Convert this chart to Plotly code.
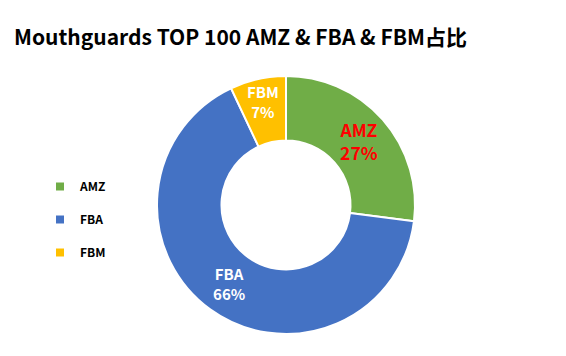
import plotly.graph_objects as go

categories = ["AMZ", "FBA", "FBM"]
values = [27, 66, 7]
colors = ["#70AD47", "#4472C4", "#FFC000"]
label_colors = ["#FF0000", "#FFFFFF", "#FFFFFF"]
label_sizes = [17.5, 15, 15]

# page body has an 8px default margin; work in window pixels and shift
OFF = 8
W, H = 566 - OFF, 356 - OFF
cx, cy, r = 286 - OFF, 205 - OFF, 129

fig = go.Figure()
fig.add_trace(go.Pie(
    labels=categories, values=values, sort=False, direction="clockwise", rotation=0,
    hole=0.5,
    marker=dict(colors=colors, line=dict(color="white", width=2)),
    texttemplate="<b>%{label}</b><br><b>%{percent:.0%}</b>",
    textposition="inside", insidetextorientation="horizontal",
    textfont=dict(color=label_colors, size=label_sizes, family="Noto Sans CJK SC"),
    showlegend=False,
    domain=dict(x=[(cx - r) / W, (cx + r) / W], y=[1 - (cy + r) / H, 1 - (cy - r) / H]),
    hoverinfo="label+percent",
))
for c, col in zip(categories, colors):
    fig.add_trace(go.Scatter(
        x=[None], y=[None], mode="markers", name="<b>" + c + "</b>", legendgroup=c,
        marker=dict(symbol="square", size=8, color=col),
    ))

fig.update_layout(
    width=W, height=H,
    margin=dict(l=0, r=0, t=0, b=0),
    paper_bgcolor="white", plot_bgcolor="white",
    uniformtext=dict(minsize=15, mode="show"),
    title=dict(text="<b>Mouthguards TOP 100 AMZ & FBA & FBM占比</b>",
               x=(14 - OFF) / W, xanchor="left", y=1 - (38 - OFF) / H, yanchor="middle",
               font=dict(size=21, family="Noto Sans CJK SC", color="black")),
    legend=dict(x=(40 - OFF) / W, y=1 - (172 - OFF) / H, xanchor="left", yanchor="top",
                tracegroupgap=14, font=dict(size=12, family="Noto Sans CJK SC", color="black"),
                itemwidth=30, bgcolor="rgba(0,0,0,0)"),
    xaxis=dict(visible=False), yaxis=dict(visible=False),
)
fig.write_html("out.html")
